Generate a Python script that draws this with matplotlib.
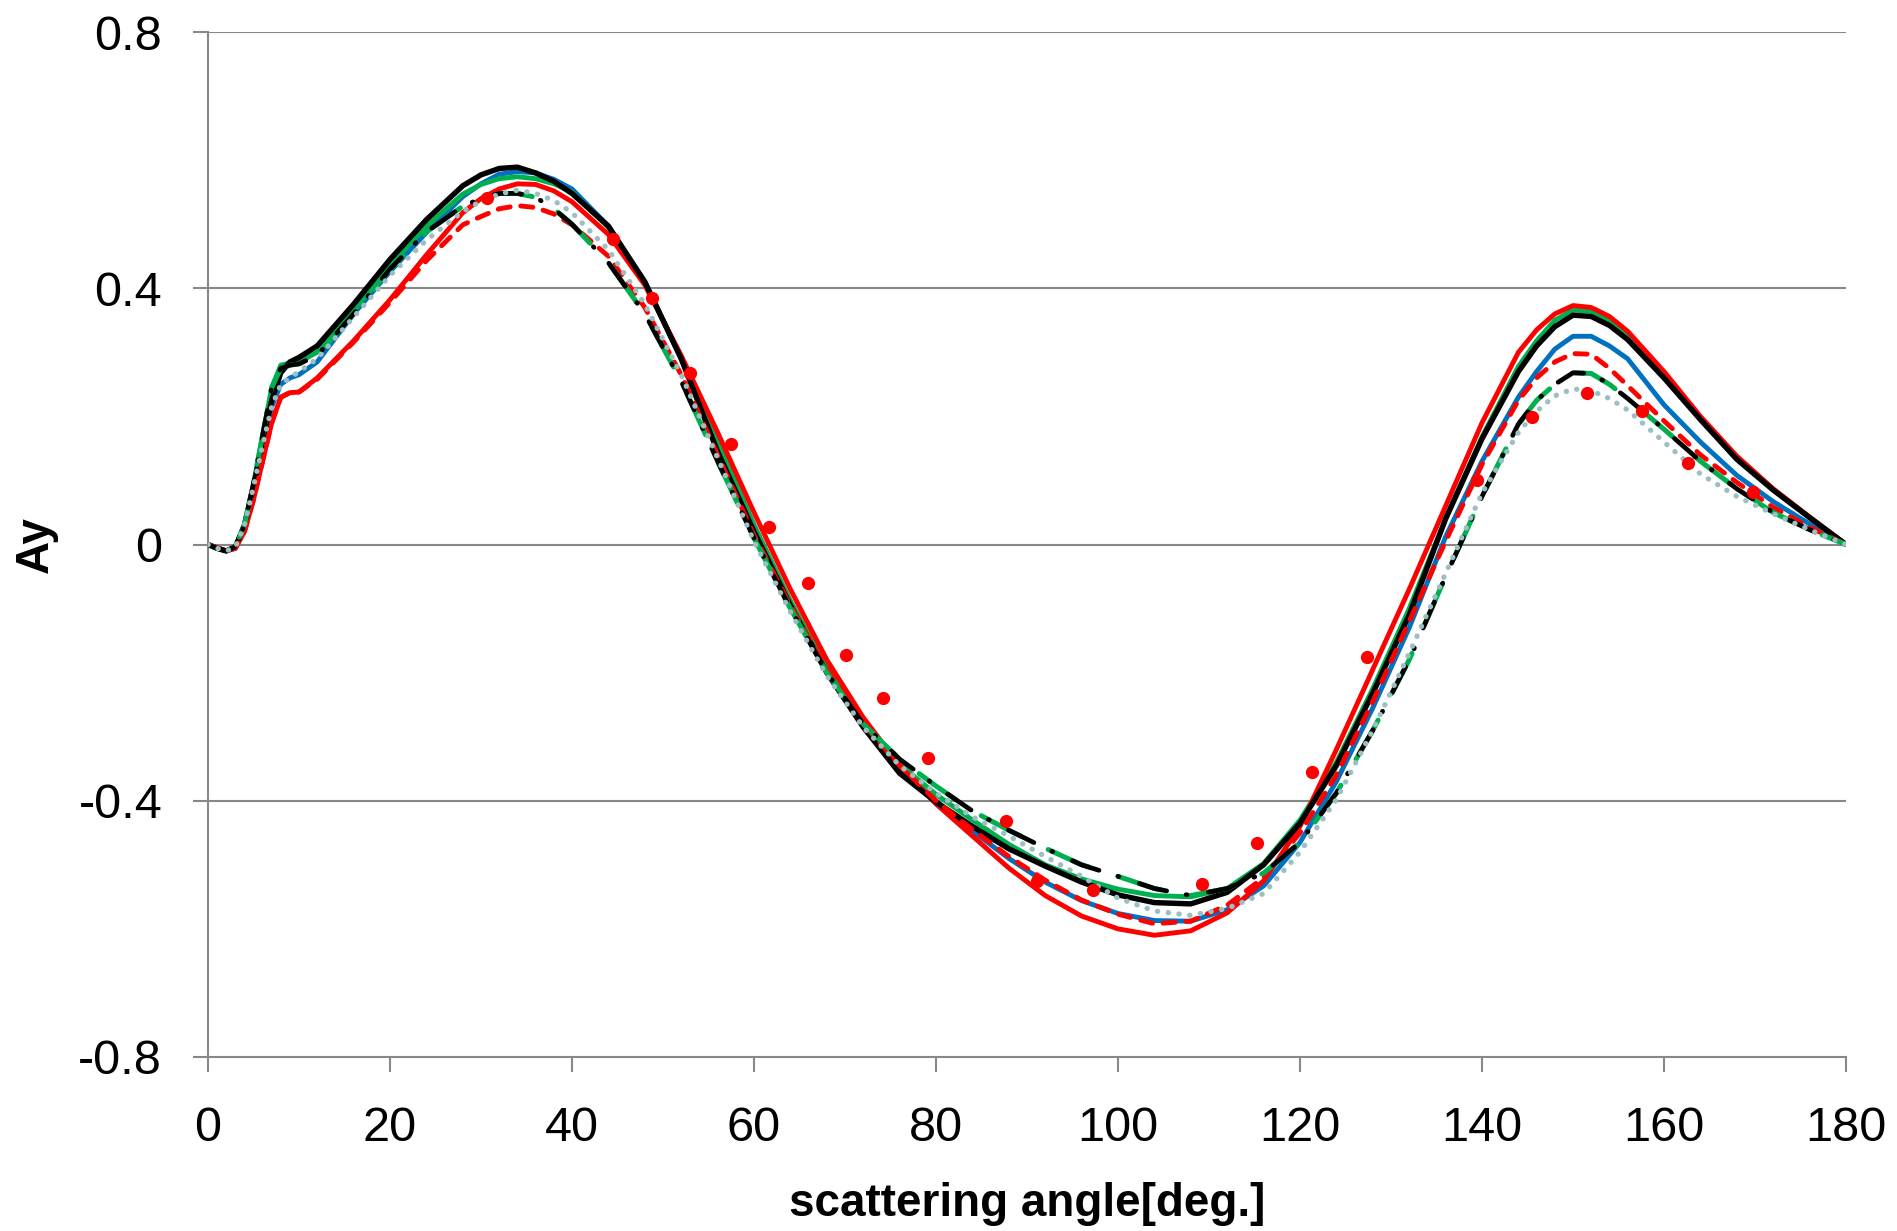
import matplotlib
matplotlib.use("Agg")
import matplotlib.pyplot as plt

# ---------------- data ----------------
angle = [0, 1, 2, 3, 4, 5, 6, 7, 8, 9, 10, 12, 16, 20, 24, 28, 30, 32, 34, 36, 38, 40, 44, 48,
         52, 56, 60, 64, 68, 72, 76, 80, 84, 88, 92, 96, 100, 104, 108, 112, 116,
         120, 124, 128, 132, 136, 140, 144, 146, 148, 150, 152, 154, 156, 160, 164, 168, 172,
         176, 180]

black_solid = [0, -0.006, -0.01, -0.004, 0.03, 0.09, 0.16, 0.225, 0.268, 0.285, 0.292,
               0.31, 0.375, 0.445, 0.507, 0.56, 0.577, 0.587, 0.589, 0.58, 0.567, 0.548, 0.497, 0.41,
               0.29, 0.145, 0.02, -0.095, -0.2, -0.285, -0.357, -0.402, -0.44, -0.475,
               -0.502, -0.527, -0.547, -0.559, -0.561, -0.543, -0.5, -0.435, -0.345,
               -0.232, -0.11, 0.04, 0.165, 0.27, 0.31, 0.34, 0.358, 0.356, 0.342, 0.32, 0.26,
               0.195, 0.133, 0.085, 0.042, 0]

red_solid = [0, -0.005, -0.01, -0.006, 0.02, 0.07, 0.13, 0.19, 0.23, 0.237, 0.238,
             0.26, 0.318, 0.382, 0.452, 0.518, 0.54, 0.555, 0.563, 0.562, 0.552, 0.535, 0.484, 0.405,
             0.295, 0.175, 0.05, -0.07, -0.18, -0.27, -0.345, -0.405, -0.455, -0.505,
             -0.548, -0.58, -0.6, -0.61, -0.603, -0.575, -0.525, -0.44, -0.32,
             -0.195, -0.07, 0.06, 0.19, 0.3, 0.335, 0.36, 0.373, 0.37, 0.356, 0.333, 0.27,
             0.2, 0.138, 0.087, 0.043, 0]

red_dashed = [0, -0.005, -0.01, -0.006, 0.02, 0.07, 0.13, 0.19, 0.23, 0.237, 0.238,
              0.258, 0.316, 0.378, 0.443, 0.499, 0.512, 0.524, 0.529, 0.526, 0.516, 0.499, 0.45, 0.37,
              0.265, 0.14, 0.015, -0.095, -0.195, -0.28, -0.345, -0.4, -0.445, -0.487,
              -0.524, -0.555, -0.577, -0.592, -0.588, -0.563, -0.52, -0.45, -0.36,
              -0.245, -0.12, 0.005, 0.125, 0.225, 0.26, 0.285, 0.298, 0.297, 0.275, 0.248, 0.193,
              0.14, 0.097, 0.058, 0.027, 0]

blue_solid = [0, -0.006, -0.01, -0.004, 0.03, 0.09, 0.155, 0.215, 0.25, 0.26, 0.265,
              0.285, 0.36, 0.426, 0.487, 0.543, 0.563, 0.578, 0.582, 0.58, 0.57, 0.555, 0.497, 0.41,
              0.29, 0.16, 0.03, -0.09, -0.195, -0.28, -0.352, -0.4, -0.447, -0.49,
              -0.527, -0.556, -0.576, -0.587, -0.588, -0.57, -0.533, -0.465, -0.37,
              -0.255, -0.13, 0.012, 0.13, 0.23, 0.27, 0.305, 0.325, 0.325, 0.31, 0.29, 0.218,
              0.16, 0.108, 0.067, 0.032, 0]

green_solid = [0, -0.006, -0.01, -0.004, 0.03, 0.095, 0.17, 0.245, 0.28, 0.283, 0.285,
               0.3, 0.365, 0.435, 0.497, 0.547, 0.562, 0.571, 0.574, 0.571, 0.563, 0.55, 0.495, 0.41,
               0.29, 0.16, 0.03, -0.088, -0.192, -0.275, -0.343, -0.39, -0.43, -0.468,
               -0.5, -0.522, -0.538, -0.548, -0.55, -0.537, -0.498, -0.43, -0.34,
               -0.225, -0.1, 0.04, 0.168, 0.278, 0.318, 0.35, 0.366, 0.364, 0.35, 0.33, 0.262,
               0.197, 0.136, 0.086, 0.042, 0]

dashdot = [0, -0.006, -0.01, -0.004, 0.03, 0.095, 0.17, 0.245, 0.275, 0.28, 0.282,
           0.295, 0.36, 0.43, 0.488, 0.528, 0.54, 0.548, 0.548, 0.542, 0.524, 0.5, 0.44, 0.36,
           0.255, 0.13, 0.01, -0.1, -0.2, -0.28, -0.335, -0.377, -0.416, -0.446,
           -0.474, -0.5, -0.518, -0.537, -0.548, -0.537, -0.513, -0.465, -0.388,
           -0.29, -0.18, -0.05, 0.075, 0.188, 0.225, 0.25, 0.268, 0.267, 0.25, 0.228, 0.18,
           0.13, 0.087, 0.05, 0.023, 0]

gray_dotted = [0, -0.006, -0.01, -0.004, 0.03, 0.09, 0.155, 0.215, 0.25, 0.26, 0.27,
               0.29, 0.355, 0.42, 0.475, 0.52, 0.536, 0.547, 0.553, 0.548, 0.537, 0.518, 0.46, 0.375,
               0.265, 0.135, 0.005, -0.105, -0.205, -0.285, -0.345, -0.388, -0.425, -0.455,
               -0.487, -0.518, -0.552, -0.572, -0.579, -0.568, -0.545, -0.48, -0.398,
               -0.29, -0.17, -0.045, 0.08, 0.175, 0.208, 0.232, 0.243, 0.24, 0.228, 0.21, 0.16,
               0.11, 0.075, 0.048, 0.023, 0]

exp_angle = [30.7, 44.5, 48.8, 53.0, 57.5, 61.6, 65.9, 70.1, 74.2, 79.1, 87.7, 91.1,
             97.2, 109.2, 115.3, 121.3, 127.4, 139.4, 145.5, 151.5, 157.6, 162.6, 169.8]
exp_ay = [0.541, 0.477, 0.385, 0.268, 0.157, 0.027, -0.060, -0.173, -0.240, -0.333,
          -0.432, -0.526, -0.54, -0.530, -0.466, -0.355, -0.176, 0.101, 0.199, 0.237,
          0.208, 0.127, 0.082]

x_ticks = [0, 20, 40, 60, 80, 100, 120, 140, 160, 180]
y_ticks = [-0.8, -0.4, 0, 0.4, 0.8]
y_tick_labels = ["-0.8", "-0.4", "0", "0.4", "0.8"]
x_label = "scattering angle[deg.]"
y_label = "Ay"

# ---------------- figure ----------------
W, H = 1897, 1231
fig = plt.figure(figsize=(W / 100, H / 100), dpi=100)
ax = fig.add_axes([208 / W, 1 - 1057 / H, (1846 - 208) / W, (1057 - 32) / H])

grid_col = "#888888"
for yv in y_ticks[1:]:
    ax.axhline(yv, color=grid_col, lw=1.5, zorder=1)

lw = 3.5
common = dict(solid_capstyle="round", solid_joinstyle="round")
ax.plot(angle, blue_solid, color="#0070C0", lw=lw, zorder=3, **common)
ax.plot(angle, green_solid, color="#00B050", lw=lw, zorder=3, **common)
ax.plot(angle, red_solid, color="#FF0000", lw=lw, zorder=3, **common)
ax.plot(angle, black_solid, color="black", lw=3.9, zorder=4, **common)
ax.plot(angle, red_dashed, color="#FF0000", lw=3.5, zorder=5,
        linestyle=(0, (2.5, 2.2)), dash_capstyle="round", dash_joinstyle="round")
ax.plot(angle, dashdot, color="#00B050", lw=3.6, zorder=5,
        linestyle=(7.0, (9, 6)), dash_capstyle="round", dash_joinstyle="round")
ax.plot(angle, dashdot, color="black", lw=3.4, zorder=6,
        linestyle=(0, (6, 4.2, 0.2, 4.6)), dash_capstyle="round", dash_joinstyle="round")
ax.plot(angle, gray_dotted, color="#9DBFC3", lw=3.8, zorder=6,
        linestyle=(0, (0.05, 2.0)), dash_capstyle="round")
ax.plot(exp_angle, exp_ay, linestyle="none", marker="o", ms=8.5,
        color="#FF0000", mec="#FF0000", zorder=7)

ax.set_xlim(0, 180)
ax.set_ylim(-0.8, 0.8)
ax.set_xticks(x_ticks)
ax.set_yticks(y_ticks)
ax.set_yticklabels(y_tick_labels)

for s in ["top", "right"]:
    ax.spines[s].set_visible(False)
for s in ["left", "bottom"]:
    ax.spines[s].set_color(grid_col)
    ax.spines[s].set_linewidth(1.5)

font = "Liberation Sans"
ax.tick_params(axis="both", direction="out", length=11, width=1.5, color=grid_col,
               labelsize=35, labelcolor="black")
ax.tick_params(axis="x", pad=24)
ax.tick_params(axis="y", pad=22)
for lab in ax.get_xticklabels() + ax.get_yticklabels():
    lab.set_fontfamily(font)

fig.text(1027 / W, 1 - 1204 / H, x_label, ha="center", va="center",
         fontsize=33, fontweight="bold", family=font)
fig.text(36 / W, 1 - 545 / H, y_label, ha="center", va="center", rotation=90,
         fontsize=33, fontweight="bold", family=font)

fig.savefig("out.png", dpi=100)
